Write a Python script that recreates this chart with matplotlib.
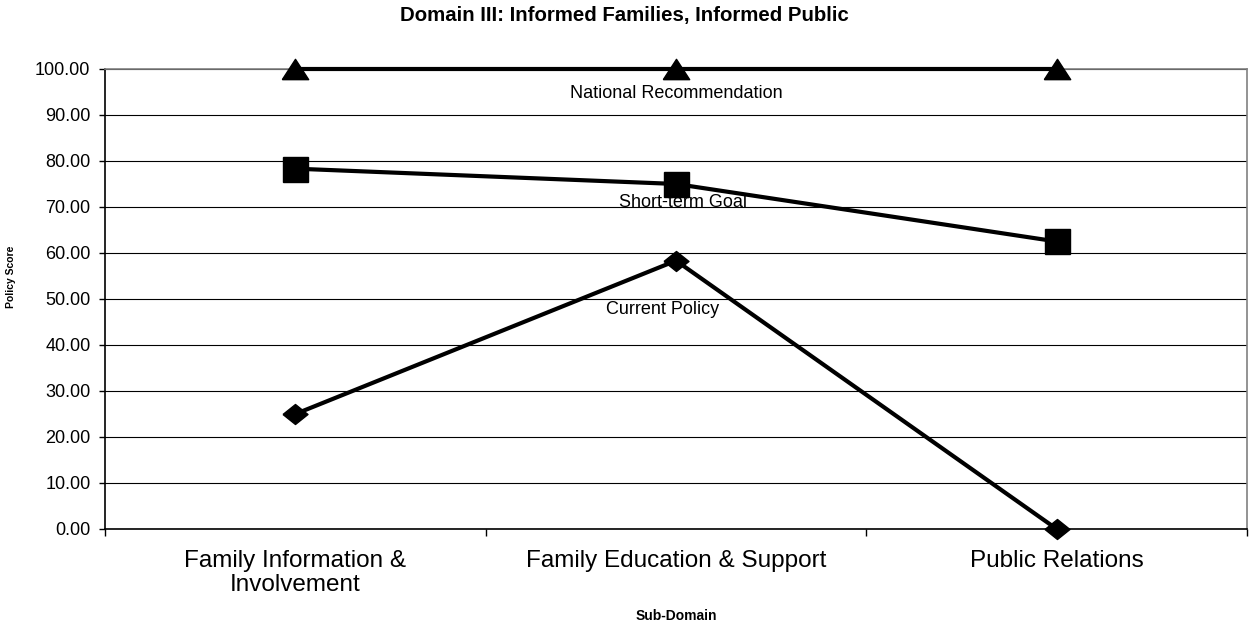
import matplotlib
matplotlib.use("Agg")
import matplotlib.pyplot as plt
import numpy as np
from matplotlib.ticker import FormatStrFormatter, FixedLocator

plt.rcParams["font.family"] = ["Liberation Sans", "DejaVu Sans"]

# Data.
categories = ["Family Information &\nInvolvement", "Family Education & Support", "Public Relations"]
national_recommendation = [100.0, 100.0, 100.0]
short_term_goal = [78.33, 75.0, 62.5]
current_policy = [25.0, 58.33, 0.0]
series_names = ["National Recommendation", "Short-term Goal", "Current Policy"]

# Excel-like markers: wide triangle and flattened diamond.
tri = [(-1.0, -0.77), (1.0, -0.77), (0.0, 0.77), (-1.0, -0.77)]
dia = [(-1.0, 0.0), (0.0, 0.8), (1.0, 0.0), (0.0, -0.8), (-1.0, 0.0)]

fig = plt.figure(figsize=(12.49, 6.27), dpi=100)
ax = fig.add_axes([0.0841, 0.1563, 0.9143, 0.7337])

x = np.arange(len(categories))

ax.plot(x, national_recommendation, color="black", linewidth=3, marker=tri,
        markersize=19, zorder=5, clip_on=False)
ax.plot(x, short_term_goal, color="black", linewidth=3, marker="s",
        markersize=18, zorder=5, clip_on=False)
ax.plot(x, current_policy, color="black", linewidth=3, marker=dia,
        markersize=18, zorder=5, clip_on=False)

# Series labels sit under the middle point (offsets in points).
label_offsets = [(0, -18), (5, -13), (-10, -35)]
for name, values, (dx, dy) in zip(series_names,
                                  [national_recommendation, short_term_goal, current_policy],
                                  label_offsets):
    ax.annotate(name, xy=(x[1], values[1]), xytext=(dx, dy), textcoords="offset points",
                ha="center", va="center", fontsize=13, zorder=6)

ax.set_xlim(-0.5, len(categories) - 0.5)
ax.set_ylim(0, 100)

ax.yaxis.set_major_locator(FixedLocator(np.arange(0, 101, 10)))
ax.yaxis.set_major_formatter(FormatStrFormatter("%.2f"))
ax.grid(axis="y", color="black", linewidth=0.8, zorder=1)
ax.set_axisbelow(True)

ax.set_xticks(x)
ax.set_xticklabels(categories, fontsize=17.5, linespacing=1.12)
ax.set_xticks(np.arange(-0.5, len(categories), 1.0), minor=True)
ax.tick_params(axis="x", which="major", length=0, pad=15)
ax.tick_params(axis="x", which="minor", length=5, width=1, direction="out")
ax.tick_params(axis="y", which="major", length=4.5, width=1, direction="out", labelsize=13, pad=6)

for side in ["left", "bottom"]:
    ax.spines[side].set_color("black")
    ax.spines[side].set_linewidth(1.2)
for side in ["top", "right"]:
    ax.spines[side].set_color("#808080")
    ax.spines[side].set_linewidth(1.2)

ax_center = 0.0841 + 0.9143 / 2
fig.text(0.5, 0.975, "Domain III: Informed Families, Informed Public", ha="center", va="center",
         fontsize=14.7, fontweight="bold")
fig.text(ax_center, 0.018, "Sub-Domain", ha="center", va="center", fontsize=10, fontweight="bold")
fig.text(0.009, 0.558, "Policy Score", ha="center", va="center", rotation=90,
         fontsize=7.5, fontweight="bold")

fig.savefig("out.png", dpi=100)
